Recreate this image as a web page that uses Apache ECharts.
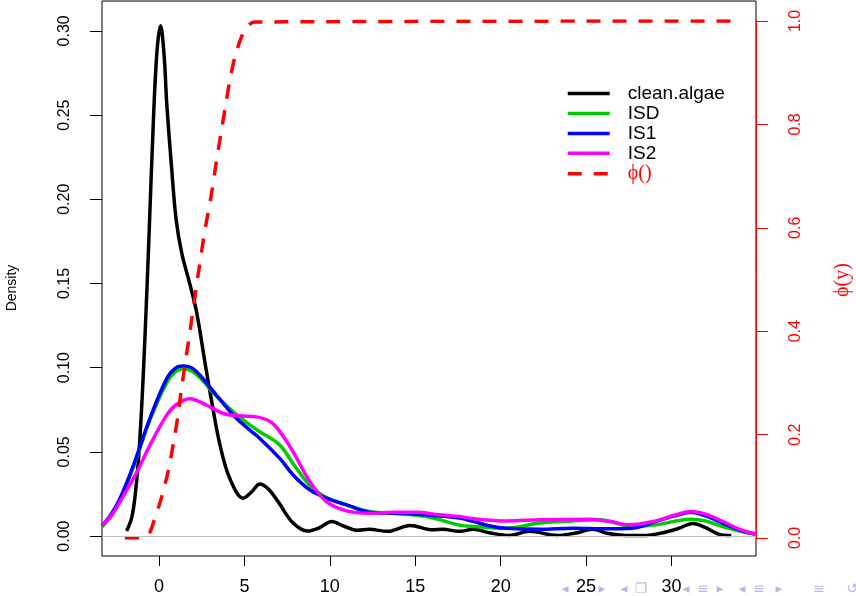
<!DOCTYPE html>
<html>
<head>
<meta charset="utf-8">
<script src="https://cdn.jsdelivr.net/npm/echarts@6/dist/echarts.min.js"></script>
<style>
html, body { margin: 0; padding: 0; background: #fff; }
#main { width: 856px; height: 596px; }
</style>
</head>
<body>
<div id="main"></div>
<script>
// axis ticks
var xTicks = [0, 5, 10, 15, 20, 25, 30];
var densTicks = [0, 0.05, 0.10, 0.15, 0.20, 0.25, 0.30];

// clean.algae
var algaeX = [-1.9, -1.6, -1.4, -1.2, -1.0, -0.8, -0.6, -0.33, -0.12, 0.09, 0.3, 0.45, 0.74, 1.0, 1.33, 1.82, 2.2, 2.69, 3.08, 3.57, 4.15, 4.93, 5.4, 5.9, 6.4, 7.0, 7.85, 8.7, 9.4, 10.1, 10.8, 11.6, 12.3, 13.4, 14.7, 16.0, 16.6, 17.6, 18.4, 19.4, 20.5, 21.7, 23.3, 24.4, 25.4, 26.3, 27.3, 28.5, 29.5, 30.4, 31.25, 32.0, 32.8, 33.5];
var algaeY = [0.003, 0.011, 0.024, 0.046, 0.080, 0.124, 0.175, 0.247, 0.288, 0.303, 0.285, 0.257, 0.218, 0.188, 0.168, 0.149, 0.133, 0.103, 0.080, 0.054, 0.034, 0.0225, 0.026, 0.031, 0.028, 0.02, 0.0077, 0.003, 0.005, 0.0087, 0.006, 0.0034, 0.004, 0.0028, 0.0063, 0.0037, 0.004, 0.0028, 0.004, 0.0018, 0.0004, 0.0028, 0.0004, 0.0018, 0.004, 0.0015, 0.0004, 0.0004, 0.002, 0.0045, 0.0075, 0.005, 0.001, 0.0003];

// ISD
var isdX = [-3.34, -2.8, -2.28, -1.5, -0.53, 0.45, 1.0, 1.42, 1.9, 2.4, 3.37, 4.35, 5.32, 5.9, 7.08, 7.85, 8.83, 9.8, 10.98, 12.3, 13.7, 15.65, 17.6, 18.4, 20.3, 22.3, 24.2, 25.8, 27.7, 29.1, 30.2, 31.15, 32.0, 33.0, 34.0, 34.9];
var isdY = [0.0055, 0.012, 0.0215, 0.041, 0.069, 0.091, 0.098, 0.0994, 0.098, 0.094, 0.083, 0.0738, 0.066, 0.062, 0.054, 0.043, 0.030, 0.0229, 0.0185, 0.0146, 0.0136, 0.0116, 0.0065, 0.0057, 0.0047, 0.0077, 0.009, 0.0097, 0.0057, 0.0067, 0.0088, 0.010, 0.009, 0.0057, 0.003, 0.0012];

// IS1
var is1X = [-3.34, -2.8, -2.28, -1.5, -0.53, 0.45, 1.0, 1.42, 1.9, 2.4, 3.37, 4.35, 5.32, 5.9, 7.08, 7.85, 8.83, 9.8, 10.98, 12.3, 13.7, 15.65, 17.6, 18.4, 19.4, 20.3, 22.3, 24.2, 26.2, 27.7, 29.1, 30.2, 31.15, 32.0, 33.0, 34.0, 34.9];
var is1Y = [0.0062, 0.013, 0.0225, 0.042, 0.070, 0.0935, 0.100, 0.101, 0.100, 0.0955, 0.0836, 0.0718, 0.0629, 0.058, 0.046, 0.0363, 0.0274, 0.0225, 0.0185, 0.0142, 0.0136, 0.0126, 0.0107, 0.0087, 0.006, 0.0047, 0.0041, 0.0047, 0.0043, 0.0047, 0.0087, 0.012, 0.0142, 0.012, 0.0077, 0.0035, 0.0012];

// IS2
var is2X = [-3.34, -2.8, -2.28, -1.3, -0.53, 0.45, 1.0, 1.8, 2.79, 3.76, 4.74, 5.71, 6.5, 7.08, 7.85, 8.83, 9.8, 10.98, 12.3, 13.7, 15.1, 16.4, 17.6, 18.4, 20.3, 22.3, 25.2, 26.5, 27.5, 29.1, 30.2, 31.15, 32.0, 33.0, 34.0, 34.9];
var is2Y = [0.0065, 0.012, 0.0205, 0.038, 0.054, 0.0718, 0.078, 0.0815, 0.0777, 0.0728, 0.0714, 0.0708, 0.068, 0.062, 0.050, 0.0324, 0.0205, 0.015, 0.0136, 0.0142, 0.0142, 0.0126, 0.0116, 0.0103, 0.009, 0.0097, 0.010, 0.0085, 0.0067, 0.009, 0.0125, 0.0146, 0.013, 0.0087, 0.004, 0.0012];

// phi() on the right axis
var phiX = [-2.0, -1.1, -0.6, -0.33, 0.16, 0.55, 0.84, 1.1, 1.33, 1.62, 1.91, 2.3, 2.69, 3.04, 3.37, 3.67, 3.92, 4.15, 4.5, 5.03, 5.6, 34.0];
var phiY = [0, 0, 0.008, 0.03, 0.080, 0.1315, 0.183, 0.235, 0.293, 0.357, 0.422, 0.512, 0.596, 0.660, 0.731, 0.792, 0.841, 0.886, 0.937, 0.983, 0.998, 1];

function pairs(xs, ys) {
	var out = [];
	for (var i = 0; i < xs.length; i++) out.push([xs[i], ys[i]]);
	return out;
}

var xMin = -3.34, xMax = 34.95;
var yMin = -0.01183, yMax = 0.31775;

var chart = echarts.init(document.getElementById('main'));

var option = {
	animation: false,
	backgroundColor: '#fff',
	grid: [
		{ left: 102, right: 100, top: 1, bottom: 38, show: true, borderColor: '#000', borderWidth: 1, backgroundColor: 'transparent' },
		{ left: 102, right: 100, top: 21, bottom: 58 }
	],
	xAxis: [{
		gridIndex: 0, type: 'value', min: xMin, max: xMax,
		axisLine: { show: false, onZero: false },
		splitLine: { show: false },
		axisTick: { show: true, length: 10, customValues: xTicks, lineStyle: { color: '#000' } },
		axisLabel: { customValues: xTicks, margin: 22, fontFamily: 'Liberation Sans', fontSize: 18, color: '#000' }
	}, {
		gridIndex: 1, type: 'value', min: xMin, max: xMax, show: false,
		axisLine: { onZero: false }
	}],
	yAxis: [{
		gridIndex: 0, type: 'value', min: yMin, max: yMax,
		axisLine: { show: false, onZero: false },
		splitLine: { show: false },
		axisTick: { show: true, length: 12, customValues: densTicks, lineStyle: { color: '#000' } },
		axisLabel: {
			customValues: densTicks, rotate: 90, margin: 29,
			fontFamily: 'Liberation Sans', fontSize: 16, color: '#000',
			formatter: function(v) { return v.toFixed(2); }
		}
	}, {
		gridIndex: 1, type: 'value', position: 'right', min: 0, max: 1, interval: 0.2,
		axisLine: { show: true, onZero: false, lineStyle: { color: '#ff0000', width: 1 } },
		splitLine: { show: false },
		axisTick: { show: true, length: 12, lineStyle: { color: '#ff0000' } },
		axisLabel: {
			rotate: 90, margin: 32, showMinLabel: true, showMaxLabel: true,
			fontFamily: 'Liberation Sans', fontSize: 16, color: '#ff0000',
			formatter: function(v) { return v.toFixed(1); }
		}
	}],
	legend: {
		orient: 'vertical',
		left: 566,
		top: 84,
		itemWidth: 42,
		itemHeight: 14,
		itemGap: 0.95,
		padding: 0,
		itemStyle: { opacity: 0 },
		lineStyle: { width: 3.5 },
		textStyle: { fontFamily: 'Liberation Sans', fontSize: 19, color: '#000', padding: [0, 0, 0, 13] },
		data: [
			{ name: 'clean.algae' },
			{ name: 'ISD' },
			{ name: 'IS1' },
			{ name: 'IS2' },
			{ name: 'ϕ()', textStyle: { color: '#ff0000', fontFamily: 'Liberation Serif', fontSize: 20 } }
		]
	},
	series: [{
		name: 'clean.algae', type: 'line', xAxisIndex: 0, yAxisIndex: 0,
		data: pairs(algaeX, algaeY), smooth: 0.35, symbol: 'none',
		lineStyle: { color: '#000', width: 3.5 }, itemStyle: { color: '#000' },
		markLine: {
			silent: true, symbol: ['none', 'none'], label: { show: false },
			lineStyle: { color: '#bebebe', width: 1, type: 'solid' },
			data: [{ yAxis: 0 }]
		}
	}, {
		name: 'ISD', type: 'line', xAxisIndex: 0, yAxisIndex: 0,
		data: pairs(isdX, isdY), smooth: 0.35, symbol: 'none',
		lineStyle: { color: '#00cd00', width: 3.5 }, itemStyle: { color: '#00cd00' }
	}, {
		name: 'IS1', type: 'line', xAxisIndex: 0, yAxisIndex: 0,
		data: pairs(is1X, is1Y), smooth: 0.35, symbol: 'none',
		lineStyle: { color: '#0000ff', width: 3.5 }, itemStyle: { color: '#0000ff' }
	}, {
		name: 'IS2', type: 'line', xAxisIndex: 0, yAxisIndex: 0,
		data: pairs(is2X, is2Y), smooth: 0.35, symbol: 'none',
		lineStyle: { color: '#ff00ff', width: 3.5 }, itemStyle: { color: '#ff00ff' }
	}, {
		name: 'ϕ()', type: 'line', xAxisIndex: 1, yAxisIndex: 1,
		data: pairs(phiX, phiY), smooth: 0.3, symbol: 'none',
		lineStyle: { color: '#ff0000', width: 3.5, type: [14, 12] }, itemStyle: { color: '#ff0000' }
	}],
	graphic: [{
		type: 'text', x: 12, y: 288, rotation: Math.PI / 2,
		style: { text: 'Density', fontFamily: 'Liberation Sans', fontSize: 14, fill: '#000', align: 'center', verticalAlign: 'middle' }
	}, {
		type: 'text', x: 843, y: 280, rotation: Math.PI / 2,
		style: { text: 'ϕ(y)', fontFamily: 'Liberation Serif', fontSize: 20, fill: '#ff0000', align: 'center', verticalAlign: 'middle' }
	}, {
		// beamer navigation symbols
		type: 'group',
		children: [
			{ t: '◂', x: 565 }, { t: '▸', x: 602 }, { t: '◂', x: 624 }, { t: '❐', x: 641 },
			{ t: '◂', x: 686 }, { t: '≡', x: 703 }, { t: '▸', x: 720 }, { t: '◂', x: 742 },
			{ t: '≡', x: 759 }, { t: '▸', x: 779 }, { t: '≡', x: 819 }, { t: '↺', x: 852 }
		].map(function(s) {
			return {
				type: 'text', x: s.x, y: 589,
				style: { text: s.t, fontFamily: 'DejaVu Sans', fontSize: 14, fill: '#b8bbe0', align: 'center', verticalAlign: 'middle' }
			};
		})
	}]
};

chart.setOption(option);
</script>
</body>
</html>
